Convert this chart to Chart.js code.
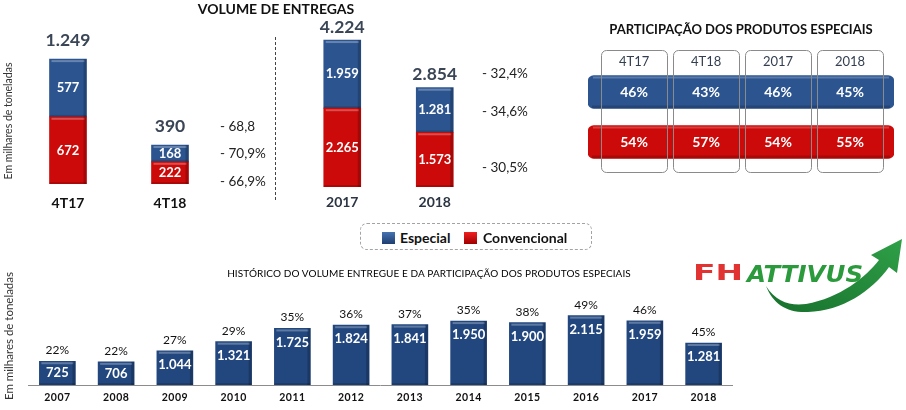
<!DOCTYPE html>
<html lang="pt-BR">
<head>
<meta charset="utf-8">
<title>Volume de entregas</title>
<script src="https://cdn.jsdelivr.net/npm/chart.js@4.4.1/dist/chart.umd.min.js"></script>
<style>
  html, body { margin: 0; padding: 0; background: #fff; }
  #pagina { position: relative; width: 906px; height: 410px; overflow: hidden; font-family: Lato, 'Open Sans', sans-serif; color: #222; }
  canvas { position: absolute; }
  .txt { position: absolute; white-space: nowrap; transform: translate(0, -50%); }
  .centro { transform: translate(-50%, -50%); }
  .eixo { position: absolute; white-space: nowrap; color: #333; transform: translate(-50%, -50%) rotate(-90deg); }
  .titulo { font-weight: bold; font-size: 14px; color: #111; }
  .variacao { font-size: 13.5px; color: #222; }
  #legenda { position: absolute; left: 360px; top: 223px; width: 232px; height: 27px; box-sizing: border-box; border: 1.5px dashed #a3a3a3; border-radius: 7px; }
  .quadrado { position: absolute; width: 13px; height: 12px; }
  .legtxt { position: absolute; font-weight: bold; font-size: 14px; color: #111; transform: translate(0, -50%); }
</style>
</head>
<body>
<div id="pagina">
  <canvas id="graficoTrimestre" width="260" height="215" style="left:0;top:0"></canvas>
  <canvas id="graficoAno" width="250" height="215" style="left:260px;top:0"></canvas>
  <canvas id="graficoParticipacao" width="326" height="215" style="left:580px;top:0"></canvas>
  <canvas id="graficoHistorico" width="760" height="155" style="left:0;top:255px"></canvas>

  <div class="txt centro titulo" style="left:276px;top:8px">VOLUME DE ENTREGAS</div>
  <div class="eixo" style="left:8px;top:121px;font-size:10.5px">Em milhares de toneladas</div>
  <div style="position:absolute;left:275px;top:37px;height:163px;border-left:1px dashed #444"></div>

  <div class="txt variacao" style="left:220px;top:126px">- 68,8</div>
  <div class="txt variacao" style="left:220px;top:153px">- 70,9%</div>
  <div class="txt variacao" style="left:220px;top:181px">- 66,9%</div>
  <div class="txt variacao" style="left:482px;top:73px">- 32,4%</div>
  <div class="txt variacao" style="left:482px;top:111px">- 34,6%</div>
  <div class="txt variacao" style="left:482px;top:167px">- 30,5%</div>

  <div class="txt centro titulo" style="left:741px;top:29px;font-size:13px">PARTICIPAÇÃO DOS PRODUTOS ESPECIAIS</div>

  <div id="legenda"></div>
  <div class="quadrado" style="left:382px;top:232px;background:linear-gradient(#4673b0,#1f3f70)"></div>
  <div class="legtxt" style="left:400px;top:237px">Especial</div>
  <div class="quadrado" style="left:464px;top:232px;background:linear-gradient(#f02020,#a00000)"></div>
  <div class="legtxt" style="left:483px;top:237px">Convencional</div>

  <div class="txt centro" style="left:429px;top:273px;font-size:10px;color:#000;letter-spacing:0.1px">HISTÓRICO DO VOLUME ENTREGUE E DA PARTICIPAÇÃO DOS PRODUTOS ESPECIAIS</div>
  <div class="eixo" style="left:8px;top:336px;font-size:11.5px">Em milhares de toneladas</div>

  <svg width="226" height="90" viewBox="0 0 226 90" style="position:absolute;left:680px;top:225px">
    <defs>
      <linearGradient id="verde" x1="0" y1="1" x2="1" y2="0">
        <stop offset="0" stop-color="#17702c"/>
        <stop offset="1" stop-color="#2fa048"/>
      </linearGradient>
    </defs>
    <path d="M86 61 C96 77 110 81 126 79 C160 73 186 52 199 35 L191 30 L222 14 L217 48 L209 42 C192 66 162 86 128 87 C107 88 93 79 86 61 Z" fill="url(#verde)"/>
    <text x="13" y="55" font-family="DejaVu Sans" font-weight="bold" font-size="21" fill="#e23333" textLength="50" lengthAdjust="spacingAndGlyphs">FH</text>
    <text x="67" y="57" font-family="DejaVu Sans" font-weight="bold" font-style="italic" font-size="23" fill="#2a9a3c" textLength="116" lengthAdjust="spacingAndGlyphs">ATTIVUS</text>
  </svg>
</div>

<script>
// volume de entregas, em milhares de toneladas
const trimestres = ['4T17', '4T18'];
const trimestreEspecial = [577, 168];
const trimestreConvencional = [672, 222];

const anos = ['2017', '2018'];
const anoEspecial = [1959, 1281];
const anoConvencional = [2265, 1573];

// participação dos produtos especiais (%)
const periodosParticipacao = ['4T17', '4T18', '2017', '2018'];
const participacaoEspecial = [46, 43, 46, 45];
const participacaoConvencional = [54, 57, 54, 55];

// histórico
const historicoAnos = ['2007', '2008', '2009', '2010', '2011', '2012', '2013', '2014', '2015', '2016', '2017', '2018'];
const historicoEspecial = [725, 706, 1044, 1321, 1725, 1824, 1841, 1950, 1900, 2115, 1959, 1281];
const historicoParticipacao = [22, 22, 27, 29, 35, 36, 37, 35, 38, 49, 46, 45];

const corEspecial = '#2c5590';
const corConvencional = '#cc0a0a';
const corHistorico = '#22477e';
const fonte = 'Lato, "Open Sans", sans-serif';

function formatar(n) {
  return String(n).replace(/\B(?=(\d{3})+(?!\d))/g, '.');
}

function chanfro(ctx, bar) {
  const p = bar.getProps(['x', 'y', 'base', 'width'], true);
  const esq = p.x - p.width / 2;
  const topo = Math.min(p.y, p.base);
  const alt = Math.abs(p.base - p.y);
  ctx.fillStyle = 'rgba(255,255,255,0.28)';
  ctx.fillRect(esq + 2, topo + 1, p.width - 4, 2);
  ctx.fillStyle = 'rgba(0,0,0,0.2)';
  ctx.fillRect(esq + p.width - 3, topo, 3, alt);
  ctx.fillStyle = 'rgba(0,0,0,0.15)';
  ctx.fillRect(esq, topo + alt - 2, p.width, 2);
  return { x: p.x, topo: topo, alt: alt };
}

const rotulosVolume = {
  id: 'rotulosVolume',
  afterDatasetsDraw(chart, args, opts) {
    const ctx = chart.ctx;
    const n = chart.data.datasets.length;
    ctx.save();
    ctx.textAlign = 'center';
    ctx.textBaseline = 'middle';
    chart.data.datasets.forEach((ds, i) => {
      chart.getDatasetMeta(i).data.forEach((bar, j) => {
        const b = chanfro(ctx, bar);
        ctx.fillStyle = '#fff';
        ctx.font = 'bold 13px ' + fonte;
        ctx.fillText(formatar(ds.data[j]), b.x, b.topo + b.alt / 2);
      });
    });
    chart.getDatasetMeta(n - 1).data.forEach((bar, j) => {
      let total = 0;
      chart.data.datasets.forEach(ds => { total += ds.data[j]; });
      ctx.fillStyle = '#3a4656';
      ctx.font = 'bold 17.5px ' + fonte;
      ctx.fillText(formatar(total), bar.x, bar.y - opts.distTotal);
      ctx.fillStyle = opts.corCategoria;
      ctx.font = 'bold 14px ' + fonte;
      ctx.fillText(chart.data.labels[j], bar.x, chart.chartArea.bottom + opts.distCategoria);
    });
    ctx.restore();
  }
};

function criarColunas(id, rotulos, especial, convencional, maximo, padding, opts) {
  return new Chart(document.getElementById(id), {
    type: 'bar',
    data: {
      labels: rotulos,
      datasets: [{
        label: 'Convencional',
        data: convencional,
        backgroundColor: corConvencional,
        barThickness: 37
      }, {
        label: 'Especial',
        data: especial,
        backgroundColor: corEspecial,
        barThickness: 37
      }]
    },
    options: {
      responsive: false,
      animation: false,
      layout: { padding: padding },
      scales: {
        x: { stacked: true, display: false },
        y: { stacked: true, display: false, min: 0, max: maximo }
      },
      plugins: {
        legend: { display: false },
        tooltip: { enabled: false },
        rotulosVolume: opts
      }
    },
    plugins: [rotulosVolume]
  });
}

criarColunas('graficoTrimestre', trimestres, trimestreEspecial, trimestreConvencional, 1540,
  { left: 17, right: 39, top: 30, bottom: 31 }, { distTotal: 19, distCategoria: 19, corCategoria: '#111' });
criarColunas('graficoAno', anos, anoEspecial, anoConvencional, 4800,
  { left: 36, right: 29, top: 20, bottom: 28 }, { distTotal: 13, distCategoria: 15, corCategoria: '#2b3543' });

// faixas da participação: cada período ocupa uma unidade do eixo x
const faixaParticipacao = [-0.64, 3.61];

const quadrosParticipacao = {
  id: 'quadrosParticipacao',
  afterDatasetsDraw(chart) {
    const ctx = chart.ctx;
    const area = chart.chartArea;
    const x = chart.scales.x;
    const y = chart.scales.y;
    ctx.save();
    chart.getDatasetMeta(0).data.forEach(bar => {
      const p = bar.getProps(['x', 'y', 'base', 'height'], true);
      ctx.fillStyle = 'rgba(255,255,255,0.22)';
      ctx.fillRect(p.base + 5, p.y - p.height / 2 + 1, p.x - p.base - 10, 2);
      ctx.fillStyle = 'rgba(0,0,0,0.18)';
      ctx.fillRect(p.base + 4, p.y + p.height / 2 - 3, p.x - p.base - 8, 3);
    });
    ctx.textAlign = 'center';
    ctx.textBaseline = 'middle';
    periodosParticipacao.forEach((per, i) => {
      const cx = x.getPixelForValue(i);
      ctx.strokeStyle = '#8a8a8a';
      ctx.lineWidth = 1;
      ctx.beginPath();
      ctx.roundRect(Math.round(cx - 33) + 0.5, area.top - 17 + 0.5, 66, area.bottom - area.top + 22, 5);
      ctx.stroke();
      ctx.fillStyle = '#333f50';
      ctx.font = '13px ' + fonte;
      ctx.fillText(per, cx, area.top - 5);
      ctx.fillStyle = '#fff';
      ctx.font = 'bold 14px ' + fonte;
      ctx.fillText(participacaoEspecial[i] + '%', cx, y.getPixelForValue(0));
      ctx.fillText(participacaoConvencional[i] + '%', cx, y.getPixelForValue(1));
    });
    ctx.restore();
  }
};

new Chart(document.getElementById('graficoParticipacao'), {
  type: 'bar',
  data: {
    labels: ['Especial', 'Convencional'],
    datasets: [{
      data: [faixaParticipacao, faixaParticipacao],
      backgroundColor: [corEspecial, corConvencional],
      borderRadius: 6,
      borderSkipped: false,
      barThickness: 33
    }]
  },
  options: {
    indexAxis: 'y',
    responsive: false,
    animation: false,
    layout: { padding: { left: 8, right: 12, top: 67, bottom: 48 } },
    scales: {
      x: { type: 'linear', display: false, min: faixaParticipacao[0], max: faixaParticipacao[1] },
      y: { display: false }
    },
    plugins: { legend: { display: false }, tooltip: { enabled: false } }
  },
  plugins: [quadrosParticipacao]
});

const rotulosHistorico = {
  id: 'rotulosHistorico',
  afterDatasetsDraw(chart) {
    const ctx = chart.ctx;
    const area = chart.chartArea;
    ctx.save();
    ctx.strokeStyle = '#8c8c8c';
    ctx.lineWidth = 1;
    ctx.beginPath();
    ctx.moveTo(area.left, area.bottom + 0.5);
    ctx.lineTo(area.right, area.bottom + 0.5);
    ctx.stroke();
    ctx.textAlign = 'center';
    ctx.textBaseline = 'middle';
    chart.getDatasetMeta(0).data.forEach((bar, i) => {
      const b = chanfro(ctx, bar);
      ctx.fillStyle = '#fff';
      ctx.font = 'bold 13px ' + fonte;
      ctx.fillText(formatar(historicoEspecial[i]), b.x, b.topo + Math.min(14, b.alt / 2));
      ctx.fillStyle = '#111';
      ctx.font = '12px ' + fonte;
      ctx.fillText(historicoParticipacao[i] + '%', b.x, b.topo - 11);
      ctx.font = 'bold 10.5px ' + fonte;
      ctx.letterSpacing = '0.5px';
      ctx.fillText(historicoAnos[i], b.x, area.bottom + 13);
      ctx.letterSpacing = '0px';
    });
    ctx.restore();
  }
};

new Chart(document.getElementById('graficoHistorico'), {
  type: 'bar',
  data: {
    labels: historicoAnos,
    datasets: [{
      label: 'Especial',
      data: historicoEspecial,
      backgroundColor: corHistorico,
      barThickness: 36
    }]
  },
  options: {
    responsive: false,
    animation: false,
    layout: { padding: { left: 28, right: 27, top: 30, bottom: 25 } },
    scales: {
      x: { display: false },
      y: { display: false, min: 0, max: 3050 }
    },
    plugins: { legend: { display: false }, tooltip: { enabled: false } }
  },
  plugins: [rotulosHistorico]
});
</script>
</body>
</html>
